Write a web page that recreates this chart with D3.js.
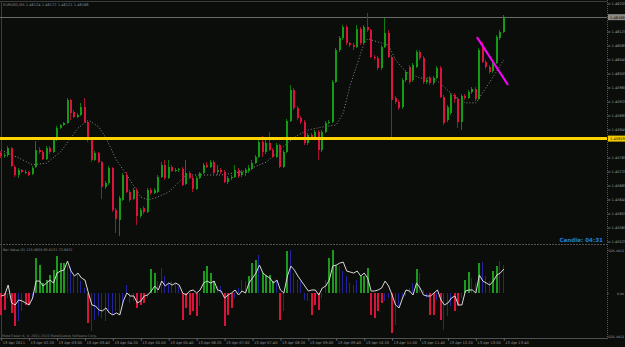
<!DOCTYPE html>
<html><head><meta charset="utf-8">
<script src="https://cdn.jsdelivr.net/npm/d3@7"></script>
<style>
html,body{margin:0;padding:0;background:#0b0d0b;overflow:hidden;}
svg{display:block;}
text{font-family:"DejaVu Sans",sans-serif;}
</style></head><body>
<svg id="chart" width="625" height="347"></svg>
<script>
const symbol = "EURUSD,M5";
const openP = [
1.45778,1.45769,1.45772,1.45792,1.45738,1.45715,1.45729,1.45724,1.45724,1.45718,
1.45738,1.45786,1.45781,1.45761,1.45792,1.45781,1.45818,1.45849,1.45858,1.45864,
1.45929,1.45895,1.45881,1.45886,1.45909,1.45866,1.45815,1.45758,1.45778,1.45752,
1.45681,1.45692,1.45735,1.45615,1.45586,1.45644,1.45715,1.45666,1.45646,1.45672,
1.45598,1.45621,1.45609,1.45672,1.45664,1.45666,1.45709,1.45744,1.45706,1.45738,
1.45726,1.45729,1.45732,1.45689,1.45721,1.45706,1.45675,1.45706,1.45721,1.45744,
1.45738,1.45752,1.45724,1.45729,1.45724,1.45695,1.45706,1.45709,1.45729,1.45715,
1.45721,1.45726,1.45732,1.45749,1.45766,1.45809,1.45781,1.45806,1.45786,1.45766,
1.45801,1.45738,1.45781,1.45869,1.45958,1.45906,1.45878,1.45866,1.45806,1.45829,
1.45821,1.45838,1.45786,1.45838,1.45864,1.45866,1.45981,1.46072,1.46106,1.46138,
1.46092,1.46086,1.46081,1.46132,1.46092,1.46138,1.46129,1.46052,1.46049,1.46021,
1.46081,1.46121,1.46052,1.45935,1.45924,1.45909,1.45986,1.46024,1.45986,1.46024,
1.46066,1.46049,1.45981,1.45992,1.45978,1.45992,1.46021,1.45938,1.45872,1.45892,
1.45944,1.45932,1.45866,1.45941,1.45935,1.45952,1.45961,1.45932,1.46078,1.46038,
1.46024,1.46012,1.46035,1.46106,1.46124];
const highP = [
1.45784,1.45778,1.45798,1.45795,1.45744,1.45735,1.45732,1.45729,1.45726,1.45741,
1.45812,1.45795,1.45786,1.45798,1.45798,1.45824,1.45855,1.45861,1.45866,1.45935,
1.45932,1.45901,1.45892,1.45921,1.45935,1.45869,1.45821,1.45784,1.45781,1.45755,
1.45698,1.45741,1.45738,1.45621,1.45655,1.45721,1.45724,1.45672,1.45678,1.45678,
1.45621,1.45626,1.45678,1.45678,1.45678,1.45715,1.45752,1.45758,1.45758,1.45744,
1.45735,1.45735,1.45738,1.45758,1.45726,1.45712,1.45712,1.45724,1.45749,1.45752,
1.45758,1.45758,1.45744,1.45735,1.45729,1.45712,1.45715,1.45744,1.45735,1.45729,
1.45735,1.45744,1.45758,1.45772,1.45824,1.45826,1.45815,1.45838,1.45792,1.45806,
1.45804,1.45786,1.45875,1.45972,1.45964,1.45912,1.45884,1.45872,1.45835,1.45835,
1.45844,1.45844,1.45844,1.45869,1.45872,1.45986,1.46078,1.46112,1.46144,1.46144,
1.46095,1.46092,1.46144,1.46138,1.46144,1.46178,1.46132,1.46058,1.46055,1.46086,
1.46164,1.46129,1.46058,1.45941,1.45929,1.45992,1.46015,1.46029,1.46035,1.46072,
1.46072,1.46055,1.45992,1.45998,1.45998,1.46026,1.46026,1.45944,1.45915,1.45949,
1.45949,1.45938,1.45946,1.45946,1.45958,1.45966,1.45966,1.46078,1.46095,1.46044,
1.46029,1.46044,1.46115,1.46129,1.46172];
const lowP = [
1.45764,1.45764,1.45766,1.45738,1.45709,1.45706,1.45721,1.45718,1.45712,1.45715,
1.45735,1.45775,1.45758,1.45758,1.45775,1.45778,1.45812,1.45846,1.45855,1.45861,
1.45872,1.45878,1.45878,1.45884,1.45864,1.45809,1.45752,1.45755,1.45749,1.45646,
1.45675,1.45686,1.45609,1.45549,1.45541,1.45641,1.45664,1.45638,1.45644,1.45572,
1.45592,1.45604,1.45606,1.45658,1.45661,1.45664,1.45706,1.45701,1.45704,1.45724,
1.45724,1.45724,1.45684,1.45686,1.45704,1.45666,1.45672,1.45704,1.45718,1.45735,
1.45735,1.45715,1.45715,1.45718,1.45692,1.45689,1.45701,1.45706,1.45706,1.45709,
1.45712,1.45721,1.45729,1.45746,1.45764,1.45766,1.45775,1.45784,1.45764,1.45764,
1.45735,1.45735,1.45778,1.45866,1.45901,1.45872,1.45861,1.45801,1.45801,1.45815,
1.45818,1.45758,1.45781,1.45835,1.45861,1.45864,1.45978,1.46066,1.46101,1.46086,
1.46081,1.46072,1.46078,1.46086,1.46086,1.46124,1.46049,1.46044,1.46015,1.46015,
1.46078,1.46049,1.45815,1.45918,1.45901,1.45904,1.45981,1.45975,1.45981,1.46021,
1.46044,1.45975,1.45975,1.45972,1.45972,1.45989,1.45935,1.45858,1.45866,1.45886,
1.45921,1.45849,1.45844,1.45929,1.45932,1.45946,1.45926,1.45929,1.46035,1.46018,
1.46004,1.46006,1.46032,1.46101,1.46121];
const closeP = [
1.45769,1.45772,1.45792,1.45741,1.45715,1.45729,1.45724,1.45724,1.45715,1.45735,
1.45786,1.45781,1.45761,1.45792,1.45781,1.45818,1.45849,1.45858,1.45864,1.45929,
1.45892,1.45881,1.45886,1.45909,1.45866,1.45815,1.45758,1.45778,1.45752,1.45681,
1.45692,1.45735,1.45615,1.45589,1.45649,1.45715,1.45666,1.45644,1.45672,1.45598,
1.45615,1.45609,1.45672,1.45664,1.45672,1.45709,1.45744,1.45706,1.45738,1.45726,
1.45729,1.45732,1.45686,1.45721,1.45706,1.45675,1.45706,1.45721,1.45744,1.45738,
1.45752,1.45721,1.45729,1.45724,1.45695,1.45706,1.45709,1.45729,1.45712,1.45724,
1.45729,1.45735,1.45749,1.45766,1.45809,1.45781,1.45806,1.45786,1.45766,1.45801,
1.45738,1.45781,1.45869,1.45958,1.45906,1.45878,1.45866,1.45806,1.45829,1.45821,
1.45838,1.45786,1.45838,1.45864,1.45866,1.45981,1.46072,1.46106,1.46138,1.46092,
1.46086,1.46081,1.46132,1.46092,1.46138,1.46129,1.46052,1.46049,1.46021,1.46081,
1.46121,1.46052,1.45929,1.45924,1.45906,1.45986,1.46009,1.45981,1.46029,1.46066,
1.46049,1.45981,1.45986,1.45978,1.45992,1.46021,1.45938,1.45864,1.45909,1.45944,
1.45932,1.45866,1.45941,1.45935,1.45952,1.45961,1.45932,1.46072,1.46038,1.46024,
1.46009,1.46035,1.46109,1.46124,1.46166];

const maIndex = [0,5,9,13,17,22,25,28,30,33,36,40,42,44,48,50,53,59,63,69,76,79,82,85,88,92,96,98,100,104,105,108,111,113,116,120,124,127,130,133,136,140,144];
const maPrice = [1.45786,1.45764,1.45744,1.45749,1.45781,1.45849,1.45872,1.45852,1.45821,1.45758,
1.45715,1.45652,1.45644,1.45649,1.45666,1.45686,1.45715,1.45715,1.45715,1.45724,
1.45752,1.45778,1.45806,1.45829,1.45844,1.45852,1.45858,1.45892,1.45972,1.46092,
1.46104,1.46095,1.46086,1.46044,1.46009,1.45992,1.45992,1.45966,1.45938,1.45921,
1.45921,1.45981,1.46044];

const histValues = [
-115.5,-89.3,-26.3,-105,-173.3,-147,-94.5,-63,-63,-36.8,
183.8,147,52.5,68.3,94.5,120.8,194.3,157.5,157.5,147,
136.5,89.3,105,63,26.3,-157.5,-199.5,-141.8,-120.8,-131.3,
-147,-94.5,-115.5,-94.5,-115.5,-68.3,42,-52.5,-42,-78.8,
-63,-52.5,-26.3,126,105,63,131.3,89.3,52.5,63,
52.5,36.8,-141.8,-78.8,-115.5,-94.5,-120.8,-68.3,115.5,141.8,
105,63,36.8,36.8,-173.3,-115.5,-78.8,-26.3,26.3,68.3,
63,89.3,157.5,173.3,199.5,105,94.5,94.5,63,68.3,
-141.8,-94.5,220.5,225.8,105,68.3,63,-36.8,-42,-115.5,
-63,-89.3,-26.3,68.3,183.8,225.8,147,141.8,115.5,89.3,
52.5,42,68.3,89.3,89.3,131.3,-115.5,-131.3,-94.5,-52.5,
-42,-26.3,-210,-168,-68.3,-26.3,-15.8,26.3,52.5,126,
105,15.8,-26.3,-115.5,-115.5,-36.8,-141.8,-194.3,-120.8,-68.3,
-94.5,-68.3,-26.3,68.3,110.3,78.8,52.5,157.5,162.8,89.3,
63,115.5,141.8,168,147];
const histState = ("RRBRRBBRRB"+"GGGGGGGGGB"+"BBBBBRBBBB"+"BBBBBBBBBR"+"RRBGGBBBBB"+
  "BBRRRRRBGG"+"GGBBRRRBBB"+"BGGGBGGGGB"+"RBGBBBBBBR"+"RRBBGGGBBB"+
  "BBBGGGRRRR"+"BBRBBBBBBG"+"BBBRRBRBBB"+"RRBGGBBGBB"+"BGGBB").split("");
const signalValues = [
-15.8,-10.5,42,-52.5,-63,-36.8,-42,-52.5,-63,-26.3,
63,63,36.8,52.5,68.3,52.5,105,115.5,120.8,168,
115.5,89.3,105,78.8,68.3,0,-63,-68.3,-89.3,-94.5,
-78.8,-105,-115.5,-105,-115.5,-42,0,-15.8,-15.8,-52.5,
-42,-15.8,-10.5,10.5,36.8,15.8,63,36.8,52.5,42,
52.5,42,0,-10.5,10.5,15.8,0,15.8,52.5,63,
52.5,63,15.8,10.5,-26.3,-10.5,0,15.8,-10.5,10.5,
0,52.5,78.8,105,147,105,89.3,78.8,52.5,68.3,
15.8,0,89.3,141.8,120.8,89.3,63,36.8,10.5,15.8,
15.8,-10.5,26.3,36.8,68.3,141.8,147,157.5,162.8,115.5,
110.3,105,115.5,89.3,105,78.8,10.5,10.5,15.8,26.3,
63,36.8,-10.5,-63,-78.8,-26.3,15.8,10.5,-10.5,52.5,
26.3,-10.5,-15.8,-15.8,0,15.8,-36.8,-63,-52.5,-26.3,
-15.8,-63,-63,10.5,15.8,15.8,0,94.5,63,52.5,
42,63,94.5,105,126];

const priceTicks = [1.46205,1.46165,1.46125,1.46085,1.46045,1.46005,1.45965,1.45925,1.45885,
  1.45845,1.45805,1.45765,1.45725,1.45685,1.45645,1.45605,1.45565,1.45525];
const timeTickIndex = [0,8,16,24,32,40,48,56,64,72,80,88,96,104,112,120,128,136,144];
const timeTickLabels = ["13 Apr 2011","13 Apr 02:20","13 Apr 03:00","13 Apr 03:40","13 Apr 04:20",
  "13 Apr 05:00","13 Apr 05:40","13 Apr 06:20","13 Apr 07:00","13 Apr 07:40","13 Apr 08:20",
  "13 Apr 09:00","13 Apr 09:40","13 Apr 10:20","13 Apr 11:00","13 Apr 11:40","13 Apr 12:20",
  "13 Apr 13:00","13 Apr 13:40"];
const levelPrice = 1.45819;
const trendIndex = [136.3, 145.2];
const trendPrice = [1.46109, 1.45972];
const indicatorTicks = [226.4012, 0, -226.4012];
const indicatorLabels = ["226.4012", "0.00", "-226.4012"];
const indicatorTitle = "Bar Value (0) 125.4658 65.8131 73.6432";
const candleTimer = "Candle: 04:31";
const copyright = "MetaTrader 4, \u00a9 2001-2010 MetaQuotes Software Corp.";

// ---------- drawing ----------
const W = 625, H = 347;
const svg = d3.select("#chart");
const axisX = 607;
const x = d3.scaleLinear().domain([0, 173]).range([1.2, 605]);
const yP = d3.scaleLinear().domain([1.46205, 1.45525]).range([3.5, 241.5]);
const yI = d3.scaleLinear().domain([-226.4012, 226.4012]).range([336, 250]);

svg.append("rect").attr("width", W).attr("height", H).attr("fill", "#0b0d0b");

const defs = svg.append("defs");
defs.append("clipPath").attr("id", "mainClip").append("rect")
  .attr("x", 0).attr("y", 2).attr("width", axisX).attr("height", 242);
defs.append("clipPath").attr("id", "indClip").append("rect")
  .attr("x", 0).attr("y", 245).attr("width", axisX).attr("height", 93);

// frame
const frame = svg.append("g").attr("shape-rendering", "crispEdges");
frame.append("line").attr("x1", 0).attr("x2", axisX).attr("y1", 1.5).attr("y2", 1.5).attr("stroke", "#3c3c3c");
frame.append("line").attr("x1", 1.5).attr("x2", 1.5).attr("y1", 1).attr("y2", 338).attr("stroke", "#3c3c3c");
frame.append("line").attr("x1", 0).attr("x2", axisX).attr("y1", 244.5).attr("y2", 244.5)
  .attr("stroke", "#505050").attr("stroke-dasharray", "2,1");
frame.append("line").attr("x1", 0).attr("x2", axisX).attr("y1", 338.5).attr("y2", 338.5).attr("stroke", "#505050");

// header
const last = closeP.length - 1;
svg.append("text").attr("x", 3).attr("y", 6).attr("font-size", 3.6).attr("fill", "#8a8a8a")
  .text(`${symbol}  ${openP[last].toFixed(5)} ${highP[last].toFixed(5)} ${lowP[last].toFixed(5)} ${closeP[last].toFixed(5)}`);

// main panel
const main = svg.append("g").attr("clip-path", "url(#mainClip)");

// current price line
main.append("line").attr("x1", 0).attr("x2", axisX)
  .attr("y1", Math.round(yP(closeP[last])) + 0.5).attr("y2", Math.round(yP(closeP[last])) + 0.5)
  .attr("stroke", "#6a6a6a").attr("shape-rendering", "crispEdges");

// moving average dotted
main.append("path")
  .datum(maIndex.map((d, i) => [d, maPrice[i]]))
  .attr("d", d3.line().x(d => x(d[0])).y(d => yP(d[1])))
  .attr("fill", "none").attr("stroke", "#8a8a8a").attr("stroke-width", 1)
  .attr("stroke-dasharray", "1,2");

// candles
const bars = d3.range(closeP.length);
const cg = main.append("g").attr("shape-rendering", "crispEdges");
cg.selectAll("rect.wick").data(bars).join("rect").attr("class", "wick")
  .attr("x", i => Math.round(x(i)) - 1)
  .attr("y", i => yP(highP[i]))
  .attr("width", 1)
  .attr("height", i => Math.max(1, yP(lowP[i]) - yP(highP[i])))
  .attr("fill", i => closeP[i] >= openP[i] ? "#0f7a0f" : "#a8102f");
cg.selectAll("rect.body").data(bars).join("rect").attr("class", "body")
  .attr("x", i => Math.round(x(i)) - 1)
  .attr("y", i => yP(Math.max(openP[i], closeP[i])))
  .attr("width", 2)
  .attr("height", i => Math.max(1, Math.abs(yP(openP[i]) - yP(closeP[i]))))
  .attr("fill", i => closeP[i] >= openP[i] ? "#139b13" : "#dc143c");

// level line (yellow)
main.append("line").attr("x1", 0).attr("x2", axisX)
  .attr("y1", yP(levelPrice)).attr("y2", yP(levelPrice))
  .attr("stroke", "#ffd200").attr("stroke-width", 3);

// trend line
main.append("line")
  .attr("x1", x(trendIndex[0])).attr("y1", yP(trendPrice[0]))
  .attr("x2", x(trendIndex[1])).attr("y2", yP(trendPrice[1]))
  .attr("stroke", "#ff00ff").attr("stroke-width", 2);

// candle timer
svg.append("text").attr("x", 603).attr("y", 242).attr("text-anchor", "end")
  .attr("font-size", 5.6).attr("font-weight", "bold").attr("fill", "#1e7fe0").text(candleTimer);

// price label boxes positions (ticks close to a box are hidden, as the terminal does)
const boxPrices = [closeP[last], levelPrice];
const shownTicks = priceTicks.filter(p => boxPrices.every(b => Math.abs(yP(p) - yP(b)) > 5));

// price axis
const pAxis = svg.append("g").attr("transform", `translate(${axisX + 0.5},0)`)
  .call(d3.axisRight(yP).tickValues(shownTicks).tickFormat(d3.format(".5f")).tickSize(3).tickPadding(1));
pAxis.select(".domain").remove();
pAxis.selectAll(".tick line").attr("stroke", "#707070");
pAxis.selectAll(".tick text").attr("fill", "#9a9a9a").attr("font-size", 3.6)
  .attr("font-family", "DejaVu Sans");

// axis vertical dotted line
svg.append("line").attr("x1", axisX + 0.5).attr("x2", axisX + 0.5).attr("y1", 0).attr("y2", 339)
  .attr("stroke", "#555").attr("stroke-dasharray", "1,1").attr("shape-rendering", "crispEdges");

// price label boxes
function priceBox(price, fill, txtFill) {
  const yy = yP(price);
  svg.append("rect").attr("x", axisX + 1).attr("y", yy - 3).attr("width", W - axisX - 1).attr("height", 6)
    .attr("fill", fill);
  svg.append("text").attr("x", axisX + 3).attr("y", yy + 1.4).attr("font-size", 3.6)
    .attr("fill", txtFill).text(price.toFixed(5));
}
priceBox(closeP[last], "#8a8a8a", "#111");
priceBox(levelPrice, "#f0cc00", "#111");

// indicator panel
const ind = svg.append("g").attr("clip-path", "url(#indClip)");
const histColor = { G: "#1c9a1c", B: "#23239e", R: "#d8143a" };
ind.append("g").attr("shape-rendering", "crispEdges")
  .selectAll("rect").data(bars).join("rect")
  .attr("x", i => Math.round(x(i)) - 1)
  .attr("y", i => Math.min(yI(0), yI(histValues[i])))
  .attr("width", i => histState[i] === "B" ? 1 : 2)
  .attr("height", i => Math.abs(yI(histValues[i]) - yI(0)))
  .attr("fill", i => histColor[histState[i]]);
ind.append("path").datum(bars)
  .attr("d", d3.line().x(i => x(i)).y(i => yI(signalValues[i])))
  .attr("fill", "none").attr("stroke", "#d8d8d8").attr("stroke-width", 1);

svg.append("text").attr("x", 3).attr("y", 251).attr("font-size", 3.4).attr("fill", "#8a8a8a").text(indicatorTitle);

const iAxis = svg.append("g").attr("transform", `translate(${axisX + 0.5},0)`)
  .call(d3.axisRight(yI).tickValues(indicatorTicks).tickFormat((d, i) => indicatorLabels[i]).tickSize(1).tickPadding(0));
iAxis.select(".domain").remove();
iAxis.selectAll(".tick line").attr("stroke", "#707070");
iAxis.selectAll(".tick text").attr("fill", "#9a9a9a").attr("font-size", 3.2).attr("font-family", "DejaVu Sans")
  .attr("text-anchor", "end").attr("x", W - axisX - 1.5);

// copyright
svg.append("text").attr("x", 2).attr("y", 337).attr("font-size", 3.4).attr("fill", "#7a7a7a").text(copyright);

// time axis
const tAxis = svg.append("g").attr("transform", "translate(0,338.5)")
  .call(d3.axisBottom(x).tickValues(timeTickIndex).tickFormat((d, i) => timeTickLabels[i]).tickSize(2).tickPadding(1));
tAxis.select(".domain").remove();
tAxis.selectAll(".tick line").attr("stroke", "#707070");
tAxis.selectAll(".tick text").attr("fill", "#9a9a9a").attr("font-size", 3.6)
  .attr("font-family", "DejaVu Sans").attr("text-anchor", "start").attr("dx", 1);
</script>
</body></html>
